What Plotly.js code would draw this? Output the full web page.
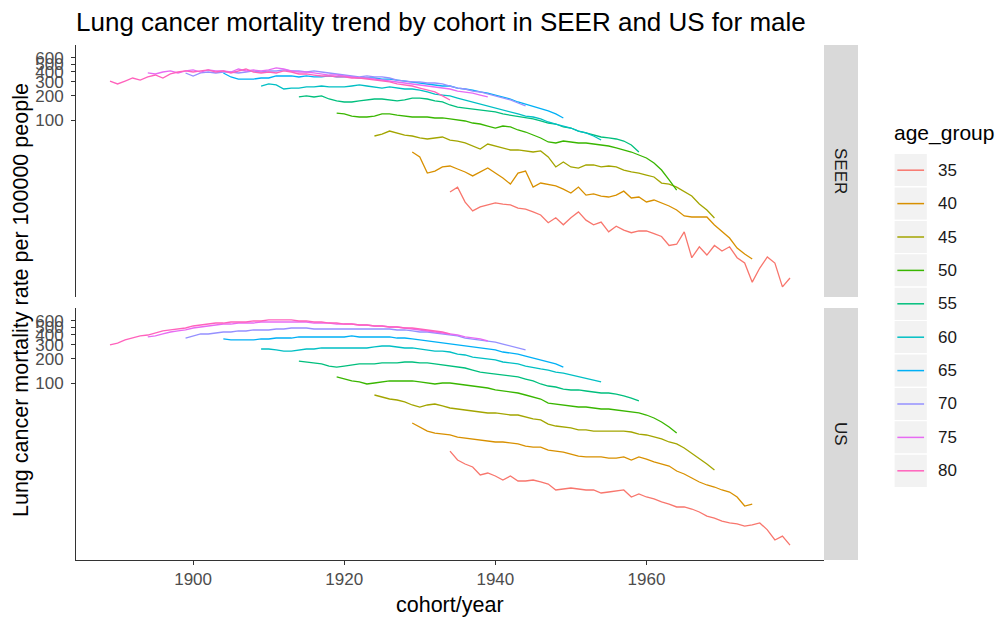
<!DOCTYPE html>
<html><head><meta charset="utf-8">
<script src="https://cdn.plot.ly/plotly-3.0.1.min.js"></script>
<style>html,body{margin:0;padding:0;background:#fff;} #chart{width:997px;height:619px;}</style>
</head><body><div id="chart"></div>
<script>
// Calendar years of observation (cohort = year - age)
const periodYears = [1969,1970,1971,1972,1973,1974,1975,1976,1977,1978,1979,1980,1981,1982,1983,1984,1985,1986,1987,1988,1989,1990,1991,1992,1993,1994,1995,1996,1997,1998,1999,2000,2001,2002,2003,2004,2005,2006,2007,2008,2009,2010,2011,2012,2013,2014];
const ageGroups = [35,40,45,50,55,60,65,70,75,80];
const ageColors = ['#F8766D','#D89000','#A3A500','#39B600','#00BF7D','#00BFC4','#00B0F6','#9590FF','#E76BF3','#FF62BC'];
const facetLabels = ['SEER','US'];
const yTickVals = [100,200,300,400,500,600];
const xTickVals = [1900,1920,1940,1960];

// SEER rates per 100000
const seer35 = [12.6,14.5,9.4,7.3,8.2,8.7,9.2,8.9,8.7,7.9,7.7,7.1,6.5,5.2,6.0,4.9,6.0,7.1,5.6,4.9,5.3,4.0,4.7,4.2,3.9,4.1,4.1,3.8,3.5,2.7,2.8,4.0,1.9,2.6,2.05,2.7,2.3,2.6,1.9,1.63,0.94,1.41,1.94,1.63,0.82,1.06];
const seer40 = [39.8,34.5,21.7,23.0,25.9,26.6,24.4,22.4,20.0,22.4,25.1,21.7,18.8,15.8,21.7,23.0,14.5,16.3,15.8,15.0,13.7,12.2,14.5,11.5,11.9,11.2,10.9,11.5,12.9,10.6,10.9,9.44,10.0,9.17,8.41,7.50,6.31,6.13,6.13,6.13,4.87,3.98,3.35,2.51,2.11,1.83];
const seer45 = [63.1,66.8,72.8,68.8,64.9,63.1,59.6,57.9,59.6,61.3,56.2,54.6,51.6,47.3,43.4,50.1,47.3,44.7,42.2,42.2,41.0,39.8,41.0,34.5,25.9,29.9,25.9,25.1,27.4,27.4,25.9,26.6,25.9,23.7,22.4,21.7,20.5,19.4,16.3,15.8,14.5,12.6,11.2,8.91,7.50,5.96];
const seer50 = [122,119,112,109,109,112,119,119,115,112,109,109,109,106,106,103,100,97.2,91.7,89.1,84.1,79.4,84.1,81.8,75.0,70.8,64.9,59.6,53.1,51.6,54.6,53.1,51.6,51.6,50.1,48.7,47.3,44.7,42.2,39.8,36.5,33.5,29.0,23.7,17.8,13.3];
const seer55 = [194,200,194,200,183,173,168,168,173,178,183,183,178,173,178,188,188,183,173,168,154,145,141,137,133,130,126,119,115,112,106,103,97.2,91.7,89.1,81.8,79.4,72.8,68.8,64.9,61.3,59.6,57.9,54.6,48.7,39.8];
const seer60 = [266,282,274,244,251,251,259,259,266,259,259,259,266,274,266,259,251,259,251,244,244,237,224,211,205,200,188,178,168,158,150,141,133,126,119,112,109,103,94.4,89.1,84.1,79.4,72.8,68.8,63.1,56.2];
const seer65 = [387,345,325,325,325,335,335,355,355,355,345,355,345,345,355,345,345,345,335,335,335,325,325,316,307,299,290,282,274,266,266,251,244,237,224,217,205,194,183,168,158,150,141,130,119,106];
const seer70 = [387,355,387,398,387,398,398,387,398,410,398,410,410,422,410,410,398,410,398,387,376,365,355,345,355,345,345,335,316,307,299,299,290,290,282,266,251,244,230,224,211,200,188,178,163,150];
const seer75 = [387,376,398,410,387,410,422,398,422,410,410,398,434,410,422,410,422,447,434,410,398,398,387,376,365,365,355,345,335,335,325,316,307,299,290,282,274,266,259,251,244,230,224,217,205,194];
const seer80 = [307,282,307,335,316,345,365,335,376,398,410,398,410,422,398,410,387,410,434,398,387,398,387,410,398,376,376,365,355,355,345,345,335,335,325,316,307,299,282,274,266,251,237,224,200,178];

// US rates per 100000
const us35 = [14.1,10.9,9.72,8.91,7.08,7.50,6.88,6.13,6.88,5.96,5.96,6.13,5.79,5.46,4.60,4.73,4.87,4.73,4.60,4.60,4.22,4.34,4.47,4.60,3.76,4.10,3.76,3.55,3.26,3.07,2.82,2.82,2.66,2.44,2.17,2.05,1.88,1.78,1.73,1.63,1.68,1.78,1.46,1.09,1.22,0.94];
const us40 = [31.6,28.2,25.1,23.7,23.0,22.4,21.1,20.5,20.0,19.4,18.8,18.3,18.3,17.8,17.3,16.3,15.8,15.8,14.5,14.1,13.7,12.9,12.2,11.9,11.9,11.9,11.5,11.5,11.9,10.9,11.9,11.2,10.3,9.72,9.17,7.94,7.29,6.49,5.79,5.31,5.01,4.60,4.34,3.76,2.90,3.07];
const us45 = [70.8,66.8,63.1,61.3,57.9,53.1,50.1,53.1,54.6,51.6,48.7,47.3,46.0,44.7,43.4,42.2,42.2,41.0,39.8,39.8,37.6,35.5,34.5,30.7,29.0,28.2,27.4,25.9,25.9,25.1,25.1,25.1,25.1,25.1,24.4,23.0,22.4,21.1,20.0,18.3,17.3,15.4,13.3,11.5,9.72,8.17];
const us50 = [119,112,106,103,97.2,100,103,106,106,106,106,103,100,97.2,100,100,97.2,94.4,91.7,89.1,86.6,81.8,79.4,77.1,75.0,70.8,66.8,63.1,56.2,54.6,53.1,51.6,50.1,50.1,48.7,47.3,47.3,46.0,44.7,43.4,42.2,39.8,36.5,32.6,28.2,23.7];
const us55 = [188,183,178,173,163,158,163,168,173,173,173,178,178,178,183,183,178,178,173,168,163,158,154,145,137,133,130,126,122,119,112,106,97.2,91.7,89.1,84.1,81.8,81.8,79.4,77.1,75.0,75.0,72.8,68.8,64.9,59.6];
const us60 = [266,266,259,251,251,259,266,266,274,274,274,274,274,274,274,282,290,290,282,274,274,266,259,251,251,244,230,224,211,205,200,194,183,178,173,163,158,150,145,137,133,126,119,115,109,103];
const us65 = [355,345,345,345,345,355,355,365,365,365,376,376,376,376,376,376,376,387,376,376,376,376,376,365,365,355,345,335,325,316,307,299,290,282,274,266,259,244,237,230,217,205,194,183,173,158];
const us70 = [365,387,410,410,422,434,434,447,447,460,460,460,473,473,487,487,487,473,473,473,473,473,473,473,473,473,473,473,460,460,447,434,434,422,410,398,387,365,355,345,335,325,307,290,274,259];
const us75 = [376,387,410,434,447,460,487,501,516,531,546,546,562,562,562,579,579,579,579,579,579,579,562,562,562,546,546,546,531,531,516,516,501,501,487,473,460,447,434,422,410,398,376,365,355,335];
const us80 = [299,316,345,365,387,398,422,447,460,473,487,516,531,546,562,562,579,579,579,596,596,614,614,614,614,596,596,579,579,562,562,546,546,531,531,516,516,501,501,487,487,473,460,447,434,410];

const seerSeries = [seer35,seer40,seer45,seer50,seer55,seer60,seer65,seer70,seer75,seer80];
const usSeries = [us35,us40,us45,us50,us55,us60,us65,us70,us75,us80];

// ---------- layout geometry (pixels) ----------
const L = 76, R = 824, T = 45, B = 560;
const pw = R - L, ph = B - T;
const px = v => (v - L) / pw;
const py = v => (B - v) / ph;
const seerTop = 45, seerBot = 297, usTop = 308, usBot = 560;
const FONT = 'Liberation Sans, Arial, Helvetica, sans-serif';

const traces = [];
[[seerSeries,'y2'],[usSeries,'y']].forEach(([series, yax]) => {
  ageGroups.forEach((age, i) => {
    traces.push({
      type: 'scatter', mode: 'lines',
      x: periodYears.map(yr => yr - age),
      y: series[i],
      xaxis: 'x', yaxis: yax,
      name: String(age),
      line: {color: ageColors[i], width: 1.3},
      showlegend: false, hoverinfo: 'skip'
    });
  });
});

const shapes = [];
const annotations = [];

// facet strips
[[seerTop, seerBot, facetLabels[0]], [usTop, usBot, facetLabels[1]]].forEach(([t, b, lab]) => {
  shapes.push({type:'rect', xref:'paper', yref:'paper', x0: px(824), x1: px(858), y0: py(b), y1: py(t),
    fillcolor:'#D9D9D9', line:{width:0}, layer:'below'});
  annotations.push({xref:'paper', yref:'paper', x: px(841), y: py((t+b)/2), text: lab, showarrow:false,
    textangle: 90, font:{family:FONT, size:17, color:'#1A1A1A'}, xanchor:'center', yanchor:'middle'});
});

// legend (drawn to match ggplot keys)
annotations.push({xref:'paper', yref:'paper', x: px(892), y: py(133), text:'age_group', showarrow:false,
  xanchor:'left', yanchor:'middle', font:{family:FONT, size:21, color:'#000'}});
const keyTop = 153.5, keyH = 33.4, keyL = 894, keyW = 33.4;
ageGroups.forEach((age, i) => {
  const t = keyTop + i*keyH, b = t + keyH, c = t + keyH/2;
  shapes.push({type:'rect', xref:'paper', yref:'paper', x0: px(keyL), x1: px(keyL+keyW), y0: py(b), y1: py(t),
    fillcolor:'#F2F2F2', line:{color:'#FFFFFF', width:1.2}});
  shapes.push({type:'line', xref:'paper', yref:'paper', x0: px(keyL+0.1*keyW), x1: px(keyL+0.9*keyW), y0: py(c), y1: py(c),
    line:{color: ageColors[i], width:1.5}});
  annotations.push({xref:'paper', yref:'paper', x: px(936), y: py(c), text: String(age), showarrow:false,
    xanchor:'left', yanchor:'middle', font:{family:FONT, size:17, color:'#1A1A1A'}});
});

// axis titles
annotations.push({xref:'paper', yref:'paper', x: px(450), y: py(605), text:'cohort/year', showarrow:false,
  xanchor:'center', yanchor:'middle', font:{family:FONT, size:21.5, color:'#000'}});
annotations.push({xref:'paper', yref:'paper', x: px(21), y: py(300), text:'Lung cancer mortality rate per 100000 people', showarrow:false,
  textangle:-90, xanchor:'center', yanchor:'middle', font:{family:FONT, size:21.5, color:'#000'}});

const yCommon = {
  type:'log', range:[-0.2125, 2.9375], tickvals: yTickVals, ticktext: yTickVals.map(String),
  showline:true, linecolor:'#333333', linewidth:1, ticks:'outside', ticklen:4, tickcolor:'#333333', tickwidth:1,
  showgrid:false, zeroline:false, tickfont:{family:FONT, size:17, color:'#4D4D4D'}, anchor:'x', ticklabelstandoff: 4
};

const layout = {
  width: 997, height: 619,
  margin: {l: L, r: 997 - R, t: T, b: 619 - B, pad: 0},
  paper_bgcolor:'#FFFFFF', plot_bgcolor:'#FFFFFF',
  font: {family: FONT},
  title: {text:'Lung cancer mortality trend by cohort in SEER and US for male', x: 0, xref:'paper', xanchor:'left',
    y: 1 - 22/619, yref:'container', yanchor:'middle', font:{family:FONT, size:26, color:'#000'}},
  xaxis: {range:[1884.5, 1983.5], tickvals: xTickVals, ticktext: xTickVals.map(String), anchor:'y',
    showline:true, linecolor:'#333333', linewidth:1, ticks:'outside', ticklen:4, tickcolor:'#333333', tickwidth:1,
    showgrid:false, zeroline:false, tickfont:{family:FONT, size:17, color:'#4D4D4D'}},
  yaxis: Object.assign({}, yCommon, {domain:[py(usBot), py(usTop)]}),
  yaxis2: Object.assign({}, yCommon, {domain:[py(seerBot), py(seerTop)]}),
  shapes, annotations, showlegend:false
};

Plotly.newPlot('chart', traces, layout, {displayModeBar:false, staticPlot:true});
</script></body></html>
